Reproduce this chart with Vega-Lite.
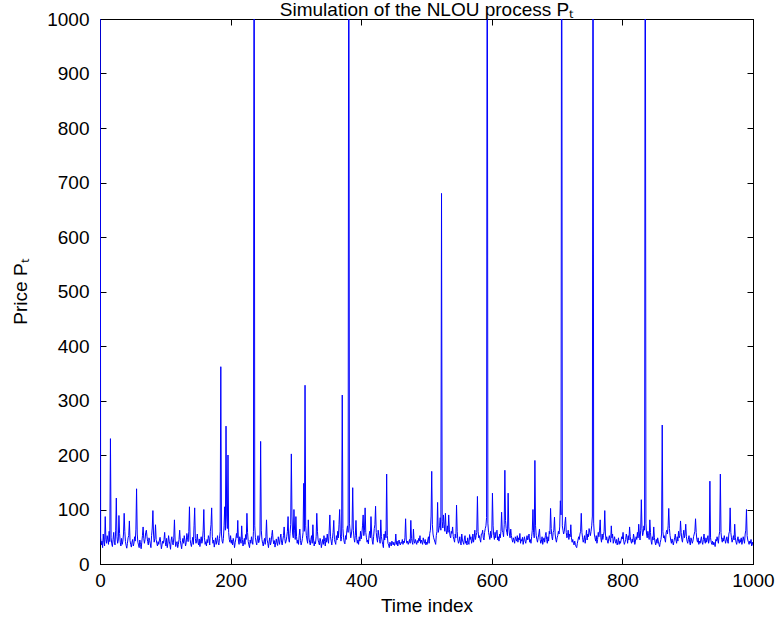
{
"$schema":"https://vega.github.io/schema/vega-lite/v6.json",
"width":653,"height":545,
"autosize":{"type":"none"},
"padding":{"left":100,"top":19,"right":24,"bottom":55},
"background":"white",
"config":{"view":{"stroke":"black","strokeWidth":1},
"axis":{"grid":false,"domainColor":"black","tickColor":"black","labelColor":"black","titleColor":"black","labelFont":"Liberation Sans","titleFont":"Liberation Sans","labelFontSize":19,"titleFontSize":19,"titleFontWeight":"normal","tickSize":-6,"format":"d","labelFlush":false,"labelOverlap":false}},
"title":{"text":"Simulation of the NLOU process Pₜ","font":"Liberation Sans","fontSize":19,"fontWeight":"normal","offset":4,"dy":14,"anchor":"middle","color":"black"},
"data":{"values":[
{"t":0,"p":1800},{"t":1,"p":48},{"t":2,"p":35},{"t":3,"p":42},{"t":4,"p":30},{"t":5,"p":55},{"t":6,"p":40},{"t":7,"p":33},{"t":8,"p":87},{"t":9,"p":45},
{"t":10,"p":38},{"t":11,"p":52},{"t":12,"p":44},{"t":13,"p":36},{"t":14,"p":60},{"t":15,"p":41},{"t":16,"p":230},{"t":17,"p":48},{"t":18,"p":37},{"t":19,"p":32},
{"t":20,"p":45},{"t":21,"p":58},{"t":22,"p":40},{"t":23,"p":35},{"t":24,"p":62},{"t":25,"p":121},{"t":26,"p":50},{"t":27,"p":38},{"t":28,"p":44},{"t":29,"p":89},
{"t":30,"p":56},{"t":31,"p":40},{"t":32,"p":33},{"t":33,"p":47},{"t":34,"p":36},{"t":35,"p":42},{"t":36,"p":55},{"t":37,"p":93},{"t":38,"p":60},{"t":39,"p":41},
{"t":40,"p":34},{"t":41,"p":29},{"t":42,"p":38},{"t":43,"p":48},{"t":44,"p":52},{"t":45,"p":79},{"t":46,"p":43},{"t":47,"p":36},{"t":48,"p":31},{"t":49,"p":40},
{"t":50,"p":45},{"t":51,"p":33},{"t":52,"p":38},{"t":53,"p":50},{"t":54,"p":42},{"t":55,"p":64},{"t":56,"p":138},{"t":57,"p":55},{"t":58,"p":40},{"t":59,"p":35},
{"t":60,"p":30},{"t":61,"p":44},{"t":62,"p":36},{"t":63,"p":28},{"t":64,"p":40},{"t":65,"p":52},{"t":66,"p":68},{"t":67,"p":47},{"t":68,"p":38},{"t":69,"p":45},
{"t":70,"p":58},{"t":71,"p":62},{"t":72,"p":50},{"t":73,"p":41},{"t":74,"p":35},{"t":75,"p":48},{"t":76,"p":43},{"t":77,"p":37},{"t":78,"p":30},{"t":79,"p":52},
{"t":80,"p":66},{"t":81,"p":98},{"t":82,"p":55},{"t":83,"p":40},{"t":84,"p":47},{"t":85,"p":72},{"t":86,"p":45},{"t":87,"p":38},{"t":88,"p":33},{"t":89,"p":41},
{"t":90,"p":36},{"t":91,"p":44},{"t":92,"p":49},{"t":93,"p":40},{"t":94,"p":28},{"t":95,"p":35},{"t":96,"p":42},{"t":97,"p":38},{"t":98,"p":45},{"t":99,"p":58},
{"t":100,"p":40},{"t":101,"p":33},{"t":102,"p":47},{"t":103,"p":30},{"t":104,"p":38},{"t":105,"p":52},{"t":106,"p":42},{"t":107,"p":36},{"t":108,"p":27},{"t":109,"p":44},
{"t":110,"p":50},{"t":111,"p":39},{"t":112,"p":35},{"t":113,"p":48},{"t":114,"p":81},{"t":115,"p":44},{"t":116,"p":32},{"t":117,"p":38},{"t":118,"p":41},{"t":119,"p":30},
{"t":120,"p":36},{"t":121,"p":45},{"t":122,"p":62},{"t":123,"p":43},{"t":124,"p":35},{"t":125,"p":28},{"t":126,"p":40},{"t":127,"p":47},{"t":128,"p":38},{"t":129,"p":52},
{"t":130,"p":44},{"t":131,"p":33},{"t":132,"p":39},{"t":133,"p":56},{"t":134,"p":48},{"t":135,"p":41},{"t":136,"p":60},{"t":137,"p":105},{"t":138,"p":45},{"t":139,"p":37},
{"t":140,"p":32},{"t":141,"p":40},{"t":142,"p":49},{"t":143,"p":36},{"t":144,"p":70},{"t":145,"p":103},{"t":146,"p":47},{"t":147,"p":38},{"t":148,"p":42},{"t":149,"p":55},
{"t":150,"p":40},{"t":151,"p":35},{"t":152,"p":46},{"t":153,"p":32},{"t":154,"p":42},{"t":155,"p":50},{"t":156,"p":38},{"t":157,"p":44},{"t":158,"p":62},{"t":159,"p":100},
{"t":160,"p":48},{"t":161,"p":36},{"t":162,"p":41},{"t":163,"p":33},{"t":164,"p":45},{"t":165,"p":39},{"t":166,"p":52},{"t":167,"p":47},{"t":168,"p":35},{"t":169,"p":60},
{"t":170,"p":72},{"t":171,"p":103},{"t":172,"p":50},{"t":173,"p":38},{"t":174,"p":44},{"t":175,"p":31},{"t":176,"p":40},{"t":177,"p":48},{"t":178,"p":36},{"t":179,"p":43},
{"t":180,"p":52},{"t":181,"p":39},{"t":182,"p":35},{"t":183,"p":47},{"t":184,"p":60},{"t":185,"p":362},{"t":186,"p":55},{"t":187,"p":42},{"t":188,"p":38},{"t":189,"p":47},
{"t":190,"p":70},{"t":191,"p":105},{"t":192,"p":62},{"t":193,"p":253},{"t":194,"p":88},{"t":195,"p":65},{"t":196,"p":200},{"t":197,"p":58},{"t":198,"p":45},{"t":199,"p":40},
{"t":200,"p":52},{"t":201,"p":38},{"t":202,"p":44},{"t":203,"p":35},{"t":204,"p":47},{"t":205,"p":41},{"t":206,"p":30},{"t":207,"p":39},{"t":208,"p":46},{"t":209,"p":56},
{"t":210,"p":48},{"t":211,"p":80},{"t":212,"p":42},{"t":213,"p":36},{"t":214,"p":50},{"t":215,"p":44},{"t":216,"p":38},{"t":217,"p":70},{"t":218,"p":45},{"t":219,"p":33},
{"t":220,"p":40},{"t":221,"p":47},{"t":222,"p":36},{"t":223,"p":54},{"t":224,"p":45},{"t":225,"p":93},{"t":226,"p":58},{"t":227,"p":41},{"t":228,"p":35},{"t":229,"p":30},
{"t":230,"p":44},{"t":231,"p":38},{"t":232,"p":50},{"t":233,"p":42},{"t":234,"p":36},{"t":235,"p":60},{"t":236,"p":1500},{"t":237,"p":70},{"t":238,"p":48},{"t":239,"p":40},
{"t":240,"p":35},{"t":241,"p":46},{"t":242,"p":52},{"t":243,"p":39},{"t":244,"p":43},{"t":245,"p":55},{"t":246,"p":225},{"t":247,"p":62},{"t":248,"p":45},{"t":249,"p":38},
{"t":250,"p":33},{"t":251,"p":41},{"t":252,"p":47},{"t":253,"p":36},{"t":254,"p":50},{"t":255,"p":81},{"t":256,"p":44},{"t":257,"p":38},{"t":258,"p":30},{"t":259,"p":42},
{"t":260,"p":48},{"t":261,"p":35},{"t":262,"p":40},{"t":263,"p":52},{"t":264,"p":62},{"t":265,"p":45},{"t":266,"p":37},{"t":267,"p":43},{"t":268,"p":31},{"t":269,"p":39},
{"t":270,"p":46},{"t":271,"p":38},{"t":272,"p":34},{"t":273,"p":50},{"t":274,"p":42},{"t":275,"p":36},{"t":276,"p":48},{"t":277,"p":55},{"t":278,"p":40},{"t":279,"p":35},
{"t":280,"p":44},{"t":281,"p":52},{"t":282,"p":68},{"t":283,"p":47},{"t":284,"p":38},{"t":285,"p":42},{"t":286,"p":50},{"t":287,"p":60},{"t":288,"p":87},{"t":289,"p":45},
{"t":290,"p":40},{"t":291,"p":56},{"t":292,"p":72},{"t":293,"p":202},{"t":294,"p":88},{"t":295,"p":55},{"t":296,"p":48},{"t":297,"p":100},{"t":298,"p":62},{"t":299,"p":45},
{"t":300,"p":87},{"t":301,"p":50},{"t":302,"p":38},{"t":303,"p":44},{"t":304,"p":36},{"t":305,"p":52},{"t":306,"p":64},{"t":307,"p":43},{"t":308,"p":35},{"t":309,"p":40},
{"t":310,"p":47},{"t":311,"p":58},{"t":312,"p":148},{"t":313,"p":60},{"t":314,"p":328},{"t":315,"p":70},{"t":316,"p":52},{"t":317,"p":44},{"t":318,"p":38},{"t":319,"p":81},
{"t":320,"p":48},{"t":321,"p":40},{"t":322,"p":35},{"t":323,"p":45},{"t":324,"p":52},{"t":325,"p":38},{"t":326,"p":72},{"t":327,"p":46},{"t":328,"p":33},{"t":329,"p":41},
{"t":330,"p":37},{"t":331,"p":50},{"t":332,"p":93},{"t":333,"p":60},{"t":334,"p":44},{"t":335,"p":39},{"t":336,"p":35},{"t":337,"p":47},{"t":338,"p":42},{"t":339,"p":30},
{"t":340,"p":38},{"t":341,"p":45},{"t":342,"p":36},{"t":343,"p":52},{"t":344,"p":41},{"t":345,"p":33},{"t":346,"p":48},{"t":347,"p":40},{"t":348,"p":55},{"t":349,"p":44},
{"t":350,"p":38},{"t":351,"p":62},{"t":352,"p":90},{"t":353,"p":50},{"t":354,"p":42},{"t":355,"p":35},{"t":356,"p":47},{"t":357,"p":58},{"t":358,"p":80},{"t":359,"p":45},
{"t":360,"p":40},{"t":361,"p":36},{"t":362,"p":52},{"t":363,"p":44},{"t":364,"p":60},{"t":365,"p":48},{"t":366,"p":72},{"t":367,"p":100},{"t":368,"p":55},{"t":369,"p":42},
{"t":370,"p":50},{"t":371,"p":310},{"t":372,"p":65},{"t":373,"p":48},{"t":374,"p":40},{"t":375,"p":37},{"t":376,"p":52},{"t":377,"p":45},{"t":378,"p":62},{"t":379,"p":70},
{"t":380,"p":58},{"t":381,"p":1500},{"t":382,"p":75},{"t":383,"p":60},{"t":384,"p":48},{"t":385,"p":55},{"t":386,"p":66},{"t":387,"p":140},{"t":388,"p":62},{"t":389,"p":47},
{"t":390,"p":40},{"t":391,"p":52},{"t":392,"p":80},{"t":393,"p":48},{"t":394,"p":38},{"t":395,"p":44},{"t":396,"p":36},{"t":397,"p":50},{"t":398,"p":42},{"t":399,"p":60},
{"t":400,"p":46},{"t":401,"p":55},{"t":402,"p":70},{"t":403,"p":90},{"t":404,"p":52},{"t":405,"p":62},{"t":406,"p":103},{"t":407,"p":58},{"t":408,"p":48},{"t":409,"p":40},
{"t":410,"p":44},{"t":411,"p":37},{"t":412,"p":52},{"t":413,"p":60},{"t":414,"p":48},{"t":415,"p":87},{"t":416,"p":55},{"t":417,"p":42},{"t":418,"p":36},{"t":419,"p":50},
{"t":420,"p":65},{"t":421,"p":72},{"t":422,"p":106},{"t":423,"p":58},{"t":424,"p":47},{"t":425,"p":40},{"t":426,"p":62},{"t":427,"p":52},{"t":428,"p":45},{"t":429,"p":38},
{"t":430,"p":81},{"t":431,"p":50},{"t":432,"p":42},{"t":433,"p":36},{"t":434,"p":30},{"t":435,"p":55},{"t":436,"p":44},{"t":437,"p":60},{"t":438,"p":48},{"t":439,"p":165},
{"t":440,"p":52},{"t":441,"p":38},{"t":442,"p":35},{"t":443,"p":30},{"t":444,"p":40},{"t":445,"p":36},{"t":446,"p":33},{"t":447,"p":42},{"t":448,"p":38},{"t":449,"p":35},
{"t":450,"p":40},{"t":451,"p":34},{"t":452,"p":38},{"t":453,"p":55},{"t":454,"p":36},{"t":455,"p":42},{"t":456,"p":33},{"t":457,"p":39},{"t":458,"p":44},{"t":459,"p":37},
{"t":460,"p":35},{"t":461,"p":40},{"t":462,"p":38},{"t":463,"p":45},{"t":464,"p":36},{"t":465,"p":42},{"t":466,"p":39},{"t":467,"p":48},{"t":468,"p":83},{"t":469,"p":44},
{"t":470,"p":38},{"t":471,"p":42},{"t":472,"p":36},{"t":473,"p":40},{"t":474,"p":45},{"t":475,"p":38},{"t":476,"p":80},{"t":477,"p":47},{"t":478,"p":40},{"t":479,"p":36},
{"t":480,"p":64},{"t":481,"p":42},{"t":482,"p":38},{"t":483,"p":45},{"t":484,"p":40},{"t":485,"p":36},{"t":486,"p":43},{"t":487,"p":39},{"t":488,"p":47},{"t":489,"p":42},
{"t":490,"p":52},{"t":491,"p":38},{"t":492,"p":44},{"t":493,"p":40},{"t":494,"p":36},{"t":495,"p":48},{"t":496,"p":42},{"t":497,"p":38},{"t":498,"p":45},{"t":499,"p":35},
{"t":500,"p":40},{"t":501,"p":36},{"t":502,"p":44},{"t":503,"p":50},{"t":504,"p":38},{"t":505,"p":56},{"t":506,"p":62},{"t":507,"p":88},{"t":508,"p":170},{"t":509,"p":72},
{"t":510,"p":55},{"t":511,"p":48},{"t":512,"p":44},{"t":513,"p":40},{"t":514,"p":36},{"t":515,"p":52},{"t":516,"p":60},{"t":517,"p":113},{"t":518,"p":58},{"t":519,"p":64},
{"t":520,"p":70},{"t":521,"p":85},{"t":522,"p":62},{"t":523,"p":680},{"t":524,"p":78},{"t":525,"p":66},{"t":526,"p":90},{"t":527,"p":72},{"t":528,"p":60},{"t":529,"p":93},
{"t":530,"p":62},{"t":531,"p":55},{"t":532,"p":70},{"t":533,"p":58},{"t":534,"p":90},{"t":535,"p":64},{"t":536,"p":52},{"t":537,"p":48},{"t":538,"p":60},{"t":539,"p":56},
{"t":540,"p":68},{"t":541,"p":50},{"t":542,"p":45},{"t":543,"p":40},{"t":544,"p":55},{"t":545,"p":48},{"t":546,"p":108},{"t":547,"p":60},{"t":548,"p":44},{"t":549,"p":38},
{"t":550,"p":42},{"t":551,"p":50},{"t":552,"p":38},{"t":553,"p":35},{"t":554,"p":55},{"t":555,"p":44},{"t":556,"p":40},{"t":557,"p":36},{"t":558,"p":46},{"t":559,"p":52},
{"t":560,"p":38},{"t":561,"p":42},{"t":562,"p":35},{"t":563,"p":48},{"t":564,"p":40},{"t":565,"p":36},{"t":566,"p":54},{"t":567,"p":45},{"t":568,"p":50},{"t":569,"p":38},
{"t":570,"p":42},{"t":571,"p":55},{"t":572,"p":40},{"t":573,"p":48},{"t":574,"p":62},{"t":575,"p":45},{"t":576,"p":52},{"t":577,"p":58},{"t":578,"p":124},{"t":579,"p":60},
{"t":580,"p":48},{"t":581,"p":52},{"t":582,"p":45},{"t":583,"p":40},{"t":584,"p":55},{"t":585,"p":55},{"t":586,"p":62},{"t":587,"p":48},{"t":588,"p":44},{"t":589,"p":58},
{"t":590,"p":65},{"t":591,"p":70},{"t":592,"p":85},{"t":593,"p":1500},{"t":594,"p":75},{"t":595,"p":58},{"t":596,"p":52},{"t":597,"p":45},{"t":598,"p":60},{"t":599,"p":48},
{"t":600,"p":55},{"t":601,"p":130},{"t":602,"p":70},{"t":603,"p":52},{"t":604,"p":45},{"t":605,"p":58},{"t":606,"p":48},{"t":607,"p":60},{"t":608,"p":62},{"t":609,"p":44},
{"t":610,"p":50},{"t":611,"p":42},{"t":612,"p":55},{"t":613,"p":48},{"t":614,"p":60},{"t":615,"p":95},{"t":616,"p":62},{"t":617,"p":58},{"t":618,"p":50},{"t":619,"p":72},
{"t":620,"p":172},{"t":621,"p":80},{"t":622,"p":65},{"t":623,"p":58},{"t":624,"p":52},{"t":625,"p":130},{"t":626,"p":68},{"t":627,"p":55},{"t":628,"p":48},{"t":629,"p":64},
{"t":630,"p":52},{"t":631,"p":45},{"t":632,"p":40},{"t":633,"p":48},{"t":634,"p":44},{"t":635,"p":38},{"t":636,"p":50},{"t":637,"p":46},{"t":638,"p":42},{"t":639,"p":52},
{"t":640,"p":40},{"t":641,"p":48},{"t":642,"p":44},{"t":643,"p":56},{"t":644,"p":38},{"t":645,"p":45},{"t":646,"p":42},{"t":647,"p":49},{"t":648,"p":36},{"t":649,"p":44},
{"t":650,"p":50},{"t":651,"p":42},{"t":652,"p":38},{"t":653,"p":46},{"t":654,"p":52},{"t":655,"p":44},{"t":656,"p":48},{"t":657,"p":55},{"t":658,"p":40},{"t":659,"p":45},
{"t":660,"p":38},{"t":661,"p":50},{"t":662,"p":62},{"t":663,"p":100},{"t":664,"p":58},{"t":665,"p":48},{"t":666,"p":190},{"t":667,"p":70},{"t":668,"p":52},{"t":669,"p":45},
{"t":670,"p":40},{"t":671,"p":48},{"t":672,"p":55},{"t":673,"p":64},{"t":674,"p":45},{"t":675,"p":38},{"t":676,"p":42},{"t":677,"p":50},{"t":678,"p":36},{"t":679,"p":44},
{"t":680,"p":48},{"t":681,"p":40},{"t":682,"p":52},{"t":683,"p":58},{"t":684,"p":45},{"t":685,"p":38},{"t":686,"p":50},{"t":687,"p":42},{"t":688,"p":60},{"t":689,"p":55},
{"t":690,"p":102},{"t":691,"p":65},{"t":692,"p":50},{"t":693,"p":44},{"t":694,"p":58},{"t":695,"p":62},{"t":696,"p":86},{"t":697,"p":55},{"t":698,"p":45},{"t":699,"p":40},
{"t":700,"p":48},{"t":701,"p":52},{"t":702,"p":60},{"t":703,"p":55},{"t":704,"p":68},{"t":705,"p":116},{"t":706,"p":90},{"t":707,"p":1500},{"t":708,"p":70},{"t":709,"p":62},
{"t":710,"p":55},{"t":711,"p":60},{"t":712,"p":75},{"t":713,"p":86},{"t":714,"p":58},{"t":715,"p":48},{"t":716,"p":52},{"t":717,"p":62},{"t":718,"p":45},{"t":719,"p":55},
{"t":720,"p":50},{"t":721,"p":72},{"t":722,"p":48},{"t":723,"p":40},{"t":724,"p":45},{"t":725,"p":38},{"t":726,"p":35},{"t":727,"p":42},{"t":728,"p":36},{"t":729,"p":32},
{"t":730,"p":30},{"t":731,"p":38},{"t":732,"p":44},{"t":733,"p":50},{"t":734,"p":45},{"t":735,"p":55},{"t":736,"p":60},{"t":737,"p":93},{"t":738,"p":58},{"t":739,"p":48},
{"t":740,"p":40},{"t":741,"p":45},{"t":742,"p":52},{"t":743,"p":38},{"t":744,"p":48},{"t":745,"p":62},{"t":746,"p":44},{"t":747,"p":55},{"t":748,"p":50},{"t":749,"p":65},
{"t":750,"p":58},{"t":751,"p":52},{"t":752,"p":60},{"t":753,"p":70},{"t":754,"p":88},{"t":755,"p":1500},{"t":756,"p":75},{"t":757,"p":55},{"t":758,"p":48},{"t":759,"p":42},
{"t":760,"p":52},{"t":761,"p":38},{"t":762,"p":45},{"t":763,"p":58},{"t":764,"p":50},{"t":765,"p":62},{"t":766,"p":81},{"t":767,"p":48},{"t":768,"p":40},{"t":769,"p":55},
{"t":770,"p":45},{"t":771,"p":52},{"t":772,"p":60},{"t":773,"p":98},{"t":774,"p":55},{"t":775,"p":44},{"t":776,"p":50},{"t":777,"p":42},{"t":778,"p":38},{"t":779,"p":46},
{"t":780,"p":52},{"t":781,"p":45},{"t":782,"p":40},{"t":783,"p":70},{"t":784,"p":48},{"t":785,"p":55},{"t":786,"p":38},{"t":787,"p":44},{"t":788,"p":50},{"t":789,"p":42},
{"t":790,"p":38},{"t":791,"p":45},{"t":792,"p":35},{"t":793,"p":40},{"t":794,"p":48},{"t":795,"p":36},{"t":796,"p":42},{"t":797,"p":38},{"t":798,"p":44},{"t":799,"p":50},
{"t":800,"p":46},{"t":801,"p":58},{"t":802,"p":42},{"t":803,"p":36},{"t":804,"p":40},{"t":805,"p":45},{"t":806,"p":55},{"t":807,"p":48},{"t":808,"p":38},{"t":809,"p":52},
{"t":810,"p":44},{"t":811,"p":68},{"t":812,"p":50},{"t":813,"p":42},{"t":814,"p":38},{"t":815,"p":46},{"t":816,"p":40},{"t":817,"p":55},{"t":818,"p":48},{"t":819,"p":36},
{"t":820,"p":42},{"t":821,"p":50},{"t":822,"p":45},{"t":823,"p":58},{"t":824,"p":48},{"t":825,"p":73},{"t":826,"p":55},{"t":827,"p":44},{"t":828,"p":62},{"t":829,"p":118},
{"t":830,"p":65},{"t":831,"p":52},{"t":832,"p":58},{"t":833,"p":70},{"t":834,"p":62},{"t":835,"p":1500},{"t":836,"p":75},{"t":837,"p":55},{"t":838,"p":48},{"t":839,"p":60},
{"t":840,"p":52},{"t":841,"p":45},{"t":842,"p":81},{"t":843,"p":58},{"t":844,"p":42},{"t":845,"p":36},{"t":846,"p":50},{"t":847,"p":44},{"t":848,"p":68},{"t":849,"p":48},
{"t":850,"p":40},{"t":851,"p":35},{"t":852,"p":45},{"t":853,"p":38},{"t":854,"p":48},{"t":855,"p":42},{"t":856,"p":36},{"t":857,"p":32},{"t":858,"p":40},{"t":859,"p":45},
{"t":860,"p":55},{"t":861,"p":255},{"t":862,"p":60},{"t":863,"p":48},{"t":864,"p":52},{"t":865,"p":45},{"t":866,"p":40},{"t":867,"p":58},{"t":868,"p":62},{"t":869,"p":55},
{"t":870,"p":70},{"t":871,"p":102},{"t":872,"p":65},{"t":873,"p":52},{"t":874,"p":44},{"t":875,"p":38},{"t":876,"p":46},{"t":877,"p":40},{"t":878,"p":35},{"t":879,"p":42},
{"t":880,"p":48},{"t":881,"p":55},{"t":882,"p":44},{"t":883,"p":38},{"t":884,"p":50},{"t":885,"p":42},{"t":886,"p":60},{"t":887,"p":48},{"t":888,"p":52},{"t":889,"p":79},
{"t":890,"p":58},{"t":891,"p":45},{"t":892,"p":40},{"t":893,"p":52},{"t":894,"p":62},{"t":895,"p":48},{"t":896,"p":55},{"t":897,"p":73},{"t":898,"p":50},{"t":899,"p":42},
{"t":900,"p":38},{"t":901,"p":45},{"t":902,"p":52},{"t":903,"p":40},{"t":904,"p":35},{"t":905,"p":48},{"t":906,"p":44},{"t":907,"p":38},{"t":908,"p":42},{"t":909,"p":50},
{"t":910,"p":55},{"t":911,"p":60},{"t":912,"p":83},{"t":913,"p":58},{"t":914,"p":45},{"t":915,"p":40},{"t":916,"p":48},{"t":917,"p":36},{"t":918,"p":42},{"t":919,"p":38},
{"t":920,"p":44},{"t":921,"p":50},{"t":922,"p":40},{"t":923,"p":36},{"t":924,"p":45},{"t":925,"p":55},{"t":926,"p":42},{"t":927,"p":38},{"t":928,"p":48},{"t":929,"p":40},
{"t":930,"p":46},{"t":931,"p":52},{"t":932,"p":38},{"t":933,"p":44},{"t":934,"p":152},{"t":935,"p":48},{"t":936,"p":40},{"t":937,"p":36},{"t":938,"p":42},{"t":939,"p":35},
{"t":940,"p":40},{"t":941,"p":38},{"t":942,"p":32},{"t":943,"p":45},{"t":944,"p":42},{"t":945,"p":50},{"t":946,"p":44},{"t":947,"p":38},{"t":948,"p":52},{"t":949,"p":60},
{"t":950,"p":165},{"t":951,"p":58},{"t":952,"p":45},{"t":953,"p":40},{"t":954,"p":48},{"t":955,"p":42},{"t":956,"p":52},{"t":957,"p":45},{"t":958,"p":38},{"t":959,"p":44},
{"t":960,"p":50},{"t":961,"p":42},{"t":962,"p":38},{"t":963,"p":55},{"t":964,"p":60},{"t":965,"p":103},{"t":966,"p":58},{"t":967,"p":48},{"t":968,"p":40},{"t":969,"p":45},
{"t":970,"p":52},{"t":971,"p":44},{"t":972,"p":73},{"t":973,"p":48},{"t":974,"p":40},{"t":975,"p":36},{"t":976,"p":44},{"t":977,"p":50},{"t":978,"p":42},{"t":979,"p":38},
{"t":980,"p":45},{"t":981,"p":40},{"t":982,"p":48},{"t":983,"p":36},{"t":984,"p":42},{"t":985,"p":50},{"t":986,"p":44},{"t":987,"p":38},{"t":988,"p":55},{"t":989,"p":62},
{"t":990,"p":100},{"t":991,"p":52},{"t":992,"p":44},{"t":993,"p":40},{"t":994,"p":36},{"t":995,"p":42},{"t":996,"p":38},{"t":997,"p":45},{"t":998,"p":33},{"t":999,"p":40},
{"t":1000,"p":35}
]},
"layer":[
{"mark":{"type":"line","color":"#0000ff","strokeWidth":1,"clip":true},
"encoding":{
"x":{"field":"t","type":"quantitative","scale":{"domain":[0,1000],"nice":false},"axis":{"values":[0,200,400,600,800,1000],"title":"Time index","labelPadding":13,"titlePadding":6}},
"y":{"field":"p","type":"quantitative","scale":{"domain":[0,1000],"nice":false},"axis":{"values":[0,100,200,300,400,500,600,700,800,900,1000],"title":"Price Pₜ","labelPadding":17,"titlePadding":16}}}},
{"transform":[{"filter":"datum.t == 0 || datum.t == 1000"}],
"mark":{"type":"line","opacity":0,"clip":true},
"encoding":{
"x":{"field":"t","type":"quantitative","axis":{"orient":"top","values":[0,200,400,600,800,1000],"labels":false,"labelPadding":0,"title":null}},
"y":{"field":"p","type":"quantitative","axis":{"orient":"right","values":[0,100,200,300,400,500,600,700,800,900,1000],"labels":false,"labelPadding":0,"title":null}}}}
],
"resolve":{"axis":{"x":"independent","y":"independent"}}
}
